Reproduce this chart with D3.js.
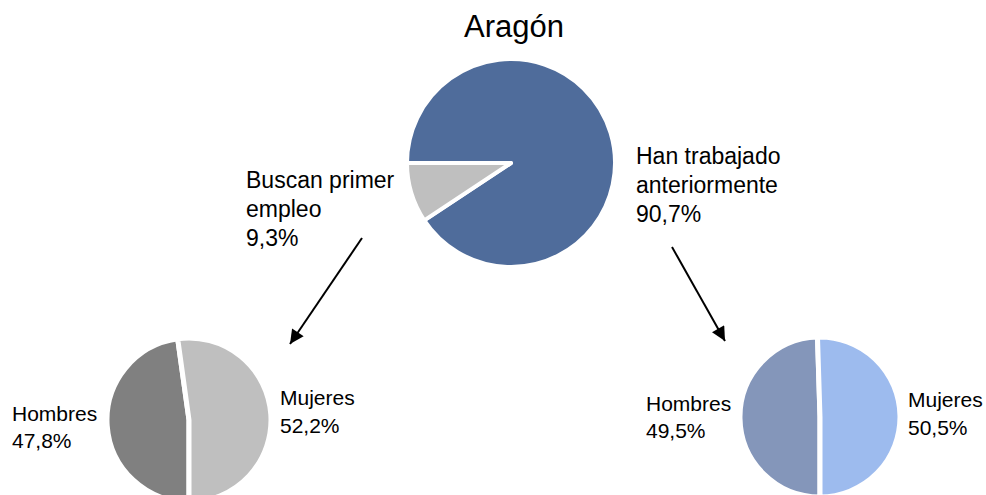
<!DOCTYPE html>
<html>
<head>
  <meta charset="utf-8">
  <title>Aragón</title>
  <style>
    body { margin: 0; background: #fff; }
    svg { display: block; font-family: "Liberation Sans", Arial, sans-serif; }
  </style>
</head>
<body>
<script src="https://cdn.jsdelivr.net/npm/d3@7"></script>
<script>
  // data
  var title = "Aragón";
  var topCategories = ["Han trabajado anteriormente", "Buscan primer empleo"];
  var topValues = [90.7, 9.3];
  var topColors = ["#4f6c9b", "#bfbfbf"];

  var sexCategories = ["Hombres", "Mujeres"];
  var firstJobValues = [47.8, 52.2];     // Buscan primer empleo
  var firstJobColors = ["#808080", "#bfbfbf"];
  var workedValues = [49.5, 50.5];       // Han trabajado anteriormente
  var workedColors = ["#8496ba", "#9dbbee"];

  var svg_width = 986, svg_height = 495;

  var svg = d3.select("body").append("svg")
      .attr("width", svg_width)
      .attr("height", svg_height);

  var fmt = function (v) { return d3.format(".1f")(v).replace(".", ",") + "%"; };

  function drawPie(values, colors, cx, cy, r, startAngle, gap) {
    var pie = d3.pie().sort(null)
        .startAngle(startAngle)
        .endAngle(startAngle + 2 * Math.PI);
    var arc = d3.arc().innerRadius(0).outerRadius(r);
    var g = svg.append("g").attr("transform", "translate(" + cx + "," + cy + ")");
    g.selectAll("path")
      .data(pie(values))
      .enter()
      .append("path")
      .attr("d", arc)
      .attr("fill", function (d, i) { return colors[i]; })
      .attr("stroke", "#fff")
      .attr("stroke-width", gap)
      .attr("stroke-linejoin", "round");
  }

  function label(lines, x, y, size, lh) {
    var t = svg.append("text")
      .attr("x", x).attr("y", y)
      .attr("font-size", size)
      .attr("fill", "#000");
    lines.forEach(function (s, i) {
      t.append("tspan").attr("x", x).attr("dy", i === 0 ? 0 : lh).text(s);
    });
  }

  // top pie: first slice starts at 9 o'clock going clockwise
  var top_cx = 511, top_cy = 163, top_r = 104;
  drawPie(topValues, topColors, top_cx, top_cy, top_r, -Math.PI / 2, 4);

  // bottom pies: Hombres starts at 6 o'clock going clockwise
  var bl_cx = 189, bl_cy = 420, bl_r = 82;
  drawPie(firstJobValues, firstJobColors, bl_cx, bl_cy, bl_r, Math.PI, 5);
  var br_cx = 820, br_cy = 417, br_r = 80;
  drawPie(workedValues, workedColors, br_cx, br_cy, br_r, Math.PI, 5);

  // title
  svg.append("text")
    .attr("x", 514).attr("y", 37)
    .attr("text-anchor", "middle")
    .attr("font-size", 31)
    .text(title);

  // top labels
  label(["Buscan primer", "empleo", fmt(topValues[1])], 246, 188, 23, 29);
  label(["Han trabajado", "anteriormente", fmt(topValues[0])], 636, 164, 23, 29);

  // bottom labels
  label([sexCategories[0], fmt(firstJobValues[0])], 12, 421, 21, 27);
  label([sexCategories[1], fmt(firstJobValues[1])], 280, 405, 21, 28);
  label([sexCategories[0], fmt(workedValues[0])], 646, 411, 21, 27);
  label([sexCategories[1], fmt(workedValues[1])], 908, 407, 21, 28);

  // arrows
  svg.append("defs").append("marker")
    .attr("id", "head")
    .attr("viewBox", "0 0 10 10")
    .attr("refX", 10).attr("refY", 5)
    .attr("markerWidth", 8).attr("markerHeight", 7)
    .attr("markerUnits", "strokeWidth")
    .attr("orient", "auto")
    .append("path")
    .attr("d", "M0,0 L10,5 L0,10 z")
    .attr("fill", "#000");

  var arrows = [
    { x1: 362, y1: 238, x2: 290, y2: 344 },
    { x1: 672, y1: 247, x2: 725, y2: 341 }
  ];
  svg.selectAll("line.arrow")
    .data(arrows)
    .enter()
    .append("line")
    .attr("class", "arrow")
    .attr("x1", function (d) { return d.x1; })
    .attr("y1", function (d) { return d.y1; })
    .attr("x2", function (d) { return d.x2; })
    .attr("y2", function (d) { return d.y2; })
    .attr("stroke", "#000")
    .attr("stroke-width", 2)
    .attr("marker-end", "url(#head)");
</script>
</body>
</html>
